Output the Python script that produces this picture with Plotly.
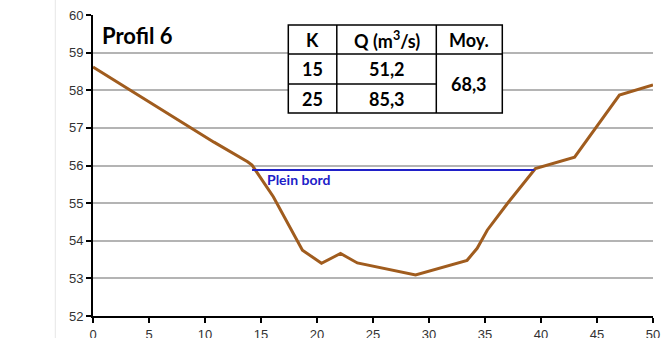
import plotly.graph_objects as go

# Cross-section profile (distance m, elevation m)
distance = [0, 7.5, 10.8, 13.8, 14.2, 16.1, 18.7, 20.4, 22.1, 23.6, 28.8, 33.4, 34.3, 35.2, 37.0, 39.5, 43.0, 47.0, 50.0]
elevation = [58.62, 57.24, 56.62, 56.10, 56.01, 55.17, 53.75, 53.40, 53.66, 53.41, 53.09, 53.48, 53.80, 54.28, 54.99, 55.92, 56.22, 57.87, 58.14]

# Bankfull level
bankfull_x = [14.2, 39.4]
bankfull_y = [55.88, 55.88]

# Table content
table_header = ["K", "Q (m<sup>3</sup>/s)", "Moy."]
table_k = ["15", "25"]
table_q = ["51,2", "85,3"]
table_moy = "68,3"

brown = "#A05C1E"
blue = "#2020C8"
tfont = "Lato, 'Open Sans', sans-serif"
afont = dict(family="Liberation Sans, Arial", size=13, color="#333")

fig = go.Figure()
fig.add_trace(go.Scatter(x=distance, y=elevation, mode="lines",
                         line=dict(color=brown, width=3), showlegend=False, hoverinfo="skip"))
fig.add_trace(go.Scatter(x=bankfull_x, y=bankfull_y, mode="lines",
                         line=dict(color=blue, width=2), showlegend=False, hoverinfo="skip"))

fig.update_layout(
    width=661, height=338,
    margin=dict(l=93, r=8, t=15, b=22, autoexpand=False),
    paper_bgcolor="white", plot_bgcolor="white",
    xaxis=dict(range=[0, 50], dtick=5, tick0=0, showgrid=False, showline=True, automargin=False,
               linecolor="black", linewidth=2, ticks="outside", ticklen=5, tickwidth=1.5,
               tickcolor="black", zeroline=False, tickfont=afont),
    yaxis=dict(range=[52, 60], dtick=1, showgrid=True, gridcolor="#B4B4B4", gridwidth=1.5,
               showline=True, linecolor="black", linewidth=2, ticks="outside", ticklen=5,
               tickwidth=1.5, tickcolor="black", zeroline=False, automargin=False,
               tickfont=afont),
)

def px(x):
    return (x - 92.7) / 560.0

def py(y):
    return (316.0 - y) / 301.0

# faint chart-area border
fig.add_shape(type="line", xref="paper", yref="paper", x0=px(55), x1=px(55), y0=py(338), y1=py(0),
              line=dict(color="#E6E6E6", width=1), layer="below")

# Table
cols = [288, 336.5, 436, 502]
rows = [25, 54, 84, 113]
fig.add_shape(type="rect", xref="paper", yref="paper", x0=px(cols[0]), x1=px(cols[3]),
              y0=py(rows[3]), y1=py(rows[0]), fillcolor="white",
              line=dict(color="black", width=1.5), layer="above")
for c in cols[1:3]:
    fig.add_shape(type="line", xref="paper", yref="paper", x0=px(c), x1=px(c),
                  y0=py(rows[3]), y1=py(rows[0]), line=dict(color="black", width=1.5))
fig.add_shape(type="line", xref="paper", yref="paper", x0=px(cols[0]), x1=px(cols[3]),
              y0=py(rows[1]), y1=py(rows[1]), line=dict(color="black", width=1.5))
fig.add_shape(type="line", xref="paper", yref="paper", x0=px(cols[0]), x1=px(cols[2]),
              y0=py(rows[2]), y1=py(rows[2]), line=dict(color="black", width=1.5))

ccent = [(cols[i] + cols[i + 1]) / 2 for i in range(3)]
rcent = [(rows[i] + rows[i + 1]) / 2 for i in range(3)]

def cell(text, x, y):
    fig.add_annotation(xref="paper", yref="paper", x=px(x), y=py(y), text="<b>" + text + "</b>",
                       showarrow=False, xanchor="center", yanchor="middle",
                       font=dict(family=tfont, size=18, color="black"))

for i, h in enumerate(table_header):
    cell(h, ccent[i], rcent[0])
for r in range(2):
    cell(table_k[r], ccent[0], rcent[r + 1])
    cell(table_q[r], ccent[1], rcent[r + 1])
cell(table_moy, ccent[2], rows[2])

# Title
fig.add_annotation(xref="paper", yref="paper", x=px(100), y=py(35), text="<b>Profil 6</b>",
                   showarrow=False, xanchor="left", yanchor="middle",
                   font=dict(family=tfont, size=22, color="black"))

# Plein bord label
fig.add_annotation(x=15.4, y=55.62, text="<b>Plein bord</b>", showarrow=False,
                   xanchor="left", yanchor="middle",
                   font=dict(family=tfont, size=14, color=blue))

fig.write_html("out.html", config={"displayModeBar": False},
               post_script="document.body.style.margin='0px';")
